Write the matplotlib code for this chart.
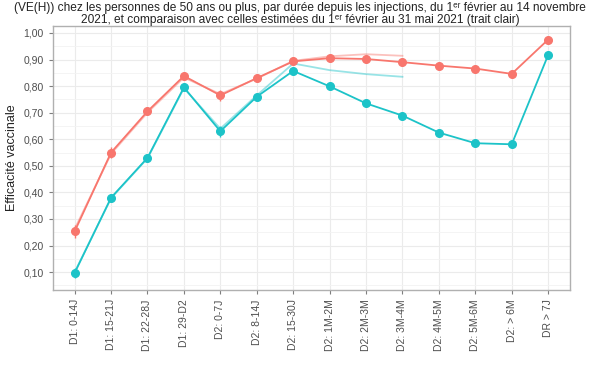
import matplotlib
matplotlib.use("Agg")
import matplotlib.pyplot as plt
import numpy as np

plt.rcParams["font.family"] = ["Liberation Sans", "DejaVu Sans"]

categories = ["D1: 0-14J", "D1: 15-21J", "D1: 22-28J", "D1: 29-D2", "D2: 0-7J",
              "D2: 8-14J", "D2: 15-30J", "D2: 1M-2M", "D2: 2M-3M", "D2: 3M-4M",
              "D2: 4M-5M", "D2: 5M-6M", "D2: > 6M", "DR > 7J"]

ve_red = [0.253, 0.550, 0.705, 0.838, 0.765, 0.830, 0.893, 0.905, 0.902, 0.890,
          0.877, 0.866, 0.846, 0.975]
ve_blue = [0.097, 0.380, 0.530, 0.795, 0.630, 0.760, 0.857, 0.799, 0.735, 0.689,
           0.625, 0.585, 0.581, 0.917]
err_red = [0.025, 0.02, 0.015, 0.01, 0.02, 0.012, 0.008, 0.006, 0.006, 0.006,
           0.006, 0.006, 0.006, 0.004]
err_blue = [0.02, 0.015, 0.015, 0.01, 0.02, 0.012, 0.008, 0.006, 0.006, 0.006,
            0.006, 0.006, 0.006, 0.006]

# comparison estimates, 1 Feb to 31 May 2021 (light lines)
ve_red_may = [0.262, 0.545, 0.70, 0.832, 0.770, 0.828, 0.895, 0.912, 0.920, 0.914]
ve_blue_may = [0.10, 0.378, 0.528, 0.792, 0.640, 0.765, 0.885, 0.860, 0.845, 0.835]

RED = "#F8766D"
BLUE = "#1CC3C8"

fig = plt.figure(figsize=(6.0, 3.72), dpi=100)
ax = fig.add_axes([0.088, 0.22, 0.862, 0.71])

x = np.arange(len(categories))
xm = np.arange(len(ve_red_may))

ax.plot(xm, ve_red_may, color=RED, alpha=0.45, lw=1.3, zorder=2)
ax.plot(xm, ve_blue_may, color=BLUE, alpha=0.45, lw=1.3, zorder=2)

ax.errorbar(x, ve_red, yerr=err_red, color=RED, lw=1.3, marker="o", ms=5.5,
            elinewidth=1.0, capsize=0, zorder=3)
ax.errorbar(x, ve_blue, yerr=err_blue, color=BLUE, lw=1.3, marker="o", ms=5.5,
            elinewidth=1.0, capsize=0, zorder=3)

ax.set_xlim(-0.6, len(categories) - 0.4)
ax.set_ylim(0.032, 1.026)
ax.set_yticks(np.arange(0.1, 1.001, 0.1))
ax.set_yticks(np.arange(0.05, 1.03, 0.1), minor=True)
ax.set_yticklabels([f"{v:.2f}".replace(".", ",") for v in np.arange(0.1, 1.001, 0.1)])
ax.set_xticks(x)
ax.set_xticklabels(categories, rotation=90)

ax.grid(which="major", color="#ebebeb", lw=0.8)
ax.grid(which="minor", axis="y", color="#f3f3f3", lw=0.6)
ax.set_axisbelow(True)
for s in ax.spines.values():
    s.set_color("#b0b0b0")
    s.set_linewidth(1.0)
ax.tick_params(axis="both", colors="#7f7f7f", labelsize=7.5, length=3)
ax.tick_params(axis="both", labelcolor="#4d4d4d")
ax.tick_params(which="minor", length=0)

ax.set_ylabel("Efficacité vaccinale", fontsize=9, color="#222222")

title = ("(VE(H)) chez les personnes de 50 ans ou plus, par durée depuis les injections, du 1ᵉʳ février au 14 novembre\n"
         "2021, et comparaison avec celles estimées du 1ᵉʳ février au 31 mai 2021 (trait clair)")
fig.text(0.5, 0.995, title, ha="center", va="top", fontsize=8.6, color="#222222",
         linespacing=1.05)

fig.savefig("out.png", dpi=100)
